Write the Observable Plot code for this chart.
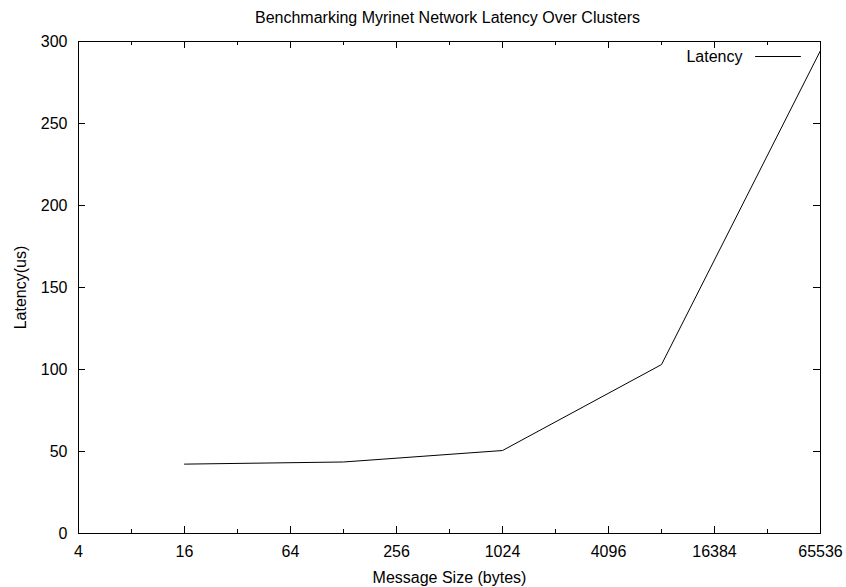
<!DOCTYPE html>
<html><head><meta charset="utf-8">
<script src="https://cdn.jsdelivr.net/npm/d3@7"></script>
<script src="https://cdn.jsdelivr.net/npm/@observablehq/plot@0.6"></script>
<style>body{margin:0;background:#fff}</style>
</head><body><div id="chart"></div>
<script>
const sizes = [16, 128, 1024, 8192, 65536];
const latency = [42.3, 43.6, 50.6, 103.0, 294.5];
const xMajorTicks = [4, 16, 64, 256, 1024, 4096, 16384, 65536];
const xMinorTicks = [8, 32, 128, 512, 2048, 8192, 32768];
const yTicks = [0, 50, 100, 150, 200, 250, 300];
const title = "Benchmarking Myrinet Network Latency Over Clusters";
const xLabel = "Message Size (bytes)";
const yLabel = "Latency(us)";
const seriesName = "Latency";

const data = sizes.map((s, i) => ({size: s, latency: latency[i]}));
const W = 846, H = 587, mL = 78, mR = 26, mT = 41, mB = 54;
const fw = W - mL - mR, fh = H - mT - mB;
const font = "'Liberation Sans', Arial, Helvetica, sans-serif";
const lineShape = {draw(ctx, l) { ctx.moveTo(0, 0); ctx.lineTo(0, -l); }};

const chart = Plot.plot({
  width: W, height: H,
  marginLeft: mL, marginRight: mR, marginTop: mT, marginBottom: mB,
  style: {fontFamily: font, fontSize: "16px", color: "#000", background: "#fff", overflow: "visible"},
  x: {type: "log", base: 2, domain: [4, 65536]},
  y: {domain: [0, 300]},
  marks: [
    Plot.tickX(xMajorTicks, {x: d => d, insetTop: fh - 7, stroke: "#000"}),
    Plot.tickX(xMinorTicks, {x: d => d, insetTop: fh - 4, stroke: "#000"}),
    Plot.tickX(xMajorTicks, {x: d => d, insetBottom: fh - 7, stroke: "#000"}),
    Plot.tickX(xMinorTicks, {x: d => d, insetBottom: fh - 4, stroke: "#000"}),
    Plot.tickY(yTicks, {y: d => d, insetRight: fw - 7, stroke: "#000"}),
    Plot.tickY(yTicks, {y: d => d, insetLeft: fw - 7, stroke: "#000"}),
    Plot.axisX(xMajorTicks, {tickSize: 0, tickPadding: 12, tickFormat: d => String(d), label: null, fill: "#000"}),
    Plot.axisY(yTicks, {tickSize: 0, tickPadding: 11, tickFormat: d => String(d), label: null, fill: "#000"}),
    Plot.frame({stroke: "#000", strokeWidth: 1}),
    Plot.line(data, {x: "size", y: "latency", stroke: "#000", strokeWidth: 1}),
    Plot.text([title], {frameAnchor: "top", dx: -2, dy: -30, lineAnchor: "top", fill: "#000"}),
    Plot.text([xLabel], {frameAnchor: "bottom", dy: 38, lineAnchor: "top", fill: "#000"}),
    Plot.text([yLabel], {frameAnchor: "left", dx: -58, rotate: -90, textAnchor: "middle", lineAnchor: "middle", fill: "#000"}),
    Plot.text([seriesName], {frameAnchor: "top-right", dx: -78, dy: 15, textAnchor: "end", lineAnchor: "middle", fill: "#000"}),
    Plot.vector([seriesName], {frameAnchor: "top-right", dx: -20, dy: 15, rotate: -90, length: 45, anchor: "start", shape: lineShape, stroke: "#000", fill: "none", strokeWidth: 1})
  ]
});
document.getElementById("chart").append(chart);
</script>
</body></html>
